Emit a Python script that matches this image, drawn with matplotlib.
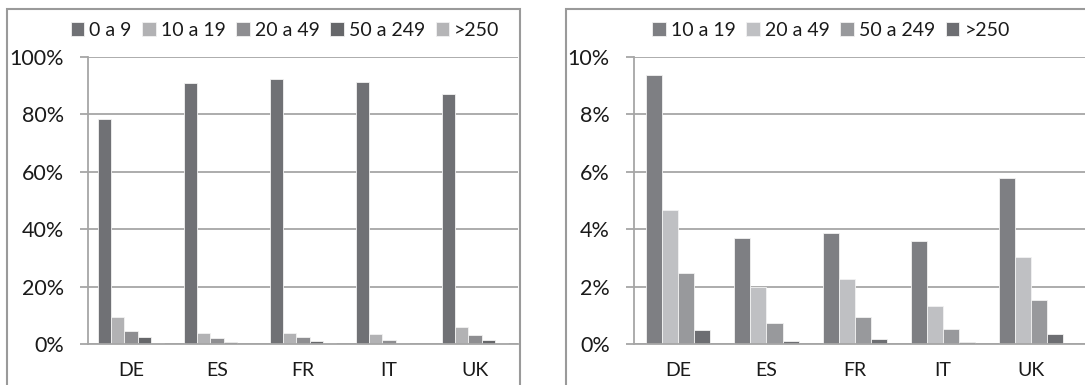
import matplotlib
matplotlib.use("Agg")
import matplotlib.pyplot as plt
from matplotlib.patches import Rectangle
from matplotlib.ticker import FuncFormatter
import numpy as np

plt.rcParams['font.family'] = ['Lato', 'DejaVu Sans']

countries = ["DE", "ES", "FR", "IT", "UK"]
size_classes = ["0 a 9", "10 a 19", "20 a 49", "50 a 249", ">250"]

# share of firms by employee size class (%)
share_0_9 = [78.3, 90.8, 92.3, 91.3, 87.0]
share_10_19 = [9.37, 3.69, 3.88, 3.58, 5.77]
share_20_49 = [4.68, 1.98, 2.28, 1.34, 3.02]
share_50_249 = [2.49, 0.73, 0.94, 0.51, 1.55]
share_250 = [0.48, 0.11, 0.19, 0.06, 0.36]

left_yticks = [0, 20, 40, 60, 80, 100]
right_yticks = [0, 2, 4, 6, 8, 10]

left_colors = ["#707175", "#b2b2b4", "#8e8e91", "#66676a", "#b5b5b7"]
right_colors = ["#7e7f83", "#bfc0c3", "#98999c", "#6d6e72"]

W, H = 1085, 385
fig = plt.figure(figsize=(W / 100, H / 100), dpi=100)

GRID = "#a6a6a6"
TEXT = "#1a1a1a"


def px_axes(x0, y_top, x1, y_bottom):
    return fig.add_axes([x0 / W, 1 - y_bottom / H, (x1 - x0) / W, (y_bottom - y_top) / H])


def style(ax, yticks, ymax, xmax):
    ax.set_xlim(-0.5, xmax)
    ax.set_ylim(0, ymax)
    ax.set_yticks(yticks)
    ax.yaxis.set_major_formatter(FuncFormatter(lambda v, p: f"{v:.0f}%"))
    ax.set_xticks(range(len(countries)))
    ax.set_xticklabels(countries)
    ax.grid(axis="y", color=GRID, linewidth=1.3)
    ax.set_axisbelow(True)
    for s in ["top", "right"]:
        ax.spines[s].set_visible(False)
    for s in ["left", "bottom"]:
        ax.spines[s].set_color(GRID)
        ax.spines[s].set_linewidth(1.3)
    ax.tick_params(axis="y", length=6, width=1.3, color=GRID, pad=11.5,
                   labelsize=15.5, labelcolor=TEXT)
    ax.tick_params(axis="x", length=0, pad=13, labelsize=14, labelcolor=TEXT)


def bars(ax, series, colors, labels):
    n = len(series)
    width = 1 / (n + 1.5)
    x = np.arange(len(countries))
    for i, (vals, c, lab) in enumerate(zip(series, colors, labels)):
        off = (i - (n - 1) / 2) * width
        ax.bar(x + off, vals, width=width, color=c, edgecolor="#f2f2f2",
               linewidth=0.6, label=lab)


def legend(ax, cx, ncol):
    x0, x1 = ax.get_position().x0 * W, ax.get_position().x1 * W
    ax.legend(loc="center", bbox_to_anchor=((cx - x0) / (x1 - x0), 1 + (57 - 30) / 287),
              ncol=ncol, frameon=False, fontsize=14, handlelength=0.7, handleheight=0.7,
              handletextpad=0.25, columnspacing=0.55, labelcolor=TEXT, borderaxespad=0)


# chart borders
fig.patches.append(Rectangle((7 / W, -0.1), 513 / W, 1.1 - 9 / H, transform=fig.transFigure,
                             fill=False, edgecolor="#9a9a9a", linewidth=1.5))
fig.patches.append(Rectangle((566 / W, -0.1), 600 / W, 1.1 - 9 / H, transform=fig.transFigure,
                             fill=False, edgecolor="#9a9a9a", linewidth=1.5))

# left: all size classes
ax1 = px_axes(88, 57, 518, 344)
style(ax1, left_yticks, 100, 4.5)
bars(ax1, [share_0_9, share_10_19, share_20_49, share_50_249, share_250], left_colors, size_classes)
legend(ax1, 285, 5)

# right: excluding the smallest class
ax2 = px_axes(634, 57, 1085, 344)
style(ax2, right_yticks, 10, -0.5 + 451 / 88.3)
bars(ax2, [share_10_19, share_20_49, share_50_249, share_250], right_colors, size_classes[1:])
legend(ax2, 831, 4)

fig.savefig("out.png", dpi=100)
